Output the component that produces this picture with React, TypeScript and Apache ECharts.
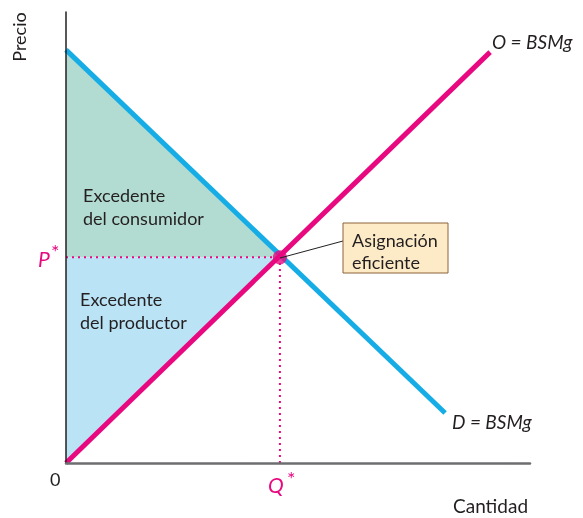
import React, { useEffect, useRef } from "react";
import * as echarts from "echarts";

// Data (x = cantidad, y = precio; 0..100 scale)
const demand = [[0, 91.6], [81.7, 11.1]];
const supply = [[0, 0], [91.4, 91.1]];
const equilibrium = [46.1, 45.6];
const consumerSurplus = [[0, 91.6], [46.1, 45.6], [0, 45.6]];
const producerSurplus = [[0, 0], [46.1, 45.6], [0, 45.6]];
const priceGuide = [[0, 45.6], [46.1, 45.6]];
const quantityGuide = [[46.1, 0], [46.1, 45.6]];

const BLUE = "#16ADE6";
const PINK = "#E8087F";
const GREEN_FILL = "#B2DCD1";
const BLUE_FILL = "#BAE3F6";
const TEXT = "#231F20";
const FONT = "Lato, 'Open Sans', sans-serif";

export default function App() {
  const ref = useRef<HTMLDivElement>(null);
  useEffect(() => {
    if (!ref.current) return;
    const chart = echarts.init(ref.current, null, { renderer: "svg" });
    const polys = [consumerSurplus, producerSurplus];
    const fills = [GREEN_FILL, BLUE_FILL];
    const txt = (x: number, y: number, text: string, extra: any = {}) => ({
      type: "text",
      x,
      y,
      z: 100,
      style: {
        text,
        fill: TEXT,
        fontFamily: FONT,
        fontSize: 18,
        textVerticalAlign: "middle",
        verticalAlign: "middle",
        ...extra,
      },
    });
    chart.setOption({
      animation: false,
      grid: { left: 66, top: 12, width: 464, height: 451 },
      xAxis: {
        type: "value",
        min: 0,
        max: 100,
        z: 10,
        axisLine: { show: true, lineStyle: { color: "#6D6E70", width: 2.5 } },
        axisTick: { show: false },
        axisLabel: { show: false },
        splitLine: { show: false },
      },
      yAxis: {
        type: "value",
        min: 0,
        max: 100,
        z: 10,
        axisLine: { show: true, lineStyle: { color: "#231F20", width: 1.5 } },
        axisTick: { show: false },
        axisLabel: { show: false },
        splitLine: { show: false },
      },
      series: [
        {
          type: "custom",
          data: [[0, 0], [0, 0]],
          z: 1,
          renderItem: (params: any, api: any) => {
            const poly = polys[params.dataIndex];
            return {
              type: "polygon",
              shape: { points: poly.map((p) => api.coord(p)) },
              style: { fill: fills[params.dataIndex] },
            };
          },
        },
        {
          type: "line",
          data: priceGuide,
          symbol: "none",
          z: 2,
          lineStyle: { color: PINK, width: 2, type: [2, 4] },
        },
        {
          type: "line",
          data: quantityGuide,
          symbol: "none",
          z: 2,
          lineStyle: { color: PINK, width: 2, type: [2, 4] },
        },
        {
          type: "line",
          data: demand,
          symbol: "none",
          z: 3,
          lineStyle: { color: BLUE, width: 5 },
        },
        {
          type: "line",
          data: supply,
          symbol: "none",
          z: 4,
          lineStyle: { color: PINK, width: 5 },
        },
        {
          type: "scatter",
          data: [equilibrium],
          symbol: "circle",
          symbolSize: 14,
          z: 5,
          itemStyle: { color: PINK },
        },
      ],
      graphic: [
        {
          type: "line",
          z: 50,
          shape: { x1: 280, y1: 258, x2: 343, y2: 241 },
          style: { stroke: "#231F20", lineWidth: 1 },
        },
        {
          type: "rect",
          z: 60,
          shape: { x: 343, y: 223, width: 105, height: 50 },
          style: { fill: "#FDEBC8", stroke: "#8C6239", lineWidth: 1 },
        },
        txt(352, 240, "Asignación"),
        txt(352, 262, "eficiente"),
        txt(83, 195, "Excedente"),
        txt(83, 218, "del consumidor"),
        txt(80, 299, "Excedente"),
        txt(80, 322, "del productor"),
        txt(492, 41, "O = BSMg", { fontStyle: "italic", fontSize: 19 }),
        txt(452, 421, "D = BSMg", { fontStyle: "italic", fontSize: 19 }),
        txt(453, 505, "Cantidad", { fontSize: 19 }),
        txt(50, 479, "0"),
        {
          type: "text",
          x: 19,
          y: 37,
          rotation: Math.PI / 2,
          z: 100,
          style: {
            text: "Precio",
            fill: TEXT,
            fontFamily: FONT,
            fontSize: 18,
            align: "center",
            verticalAlign: "middle",
          },
        },
        txt(38, 258, "P", { fontStyle: "italic", fill: PINK, fontSize: 21 }),
        txt(51, 251, "*", { fill: PINK, fontSize: 20 }),
        txt(268, 484, "Q", { fontStyle: "italic", fill: PINK, fontSize: 21 }),
        txt(287, 478, "*", { fill: PINK, fontSize: 20 }),
      ],
    });
    return () => chart.dispose();
  }, []);
  return (
    <div
      ref={ref}
      style={{ position: "fixed", left: 0, top: 0, width: 583, height: 518 }}
    />
  );
}
